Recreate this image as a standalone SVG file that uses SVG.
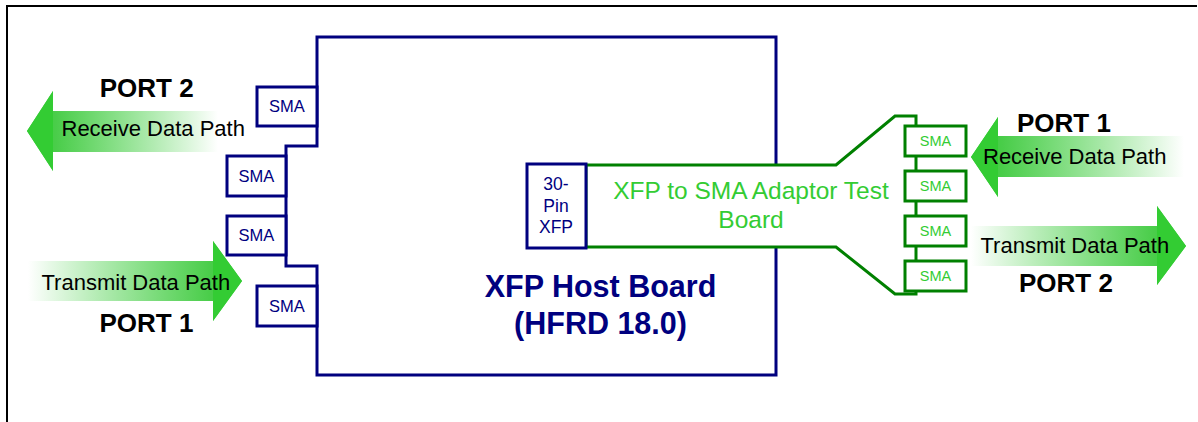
<svg xmlns="http://www.w3.org/2000/svg" width="1198" height="422" viewBox="0 0 1198 422">
<style>
.navy{fill:none;stroke:#00007f;stroke-width:3}
.navyb{fill:#fff;stroke:#00007f;stroke-width:3}
.grn{fill:#fff;stroke:#008000;stroke-width:3}
.t{font-family:"Liberation Sans",Arial,sans-serif;text-anchor:middle}
.s{font-family:"Liberation Sans",Arial,sans-serif}
.sma{font-size:16.5px;fill:#00007f}
.gsma{font-size:14.5px;fill:#33cc33}
.port{font-size:26px;font-weight:bold;fill:#000}
.path{font-size:22px;fill:#000}
</style>
<defs>
<linearGradient id="gL" x1="0" y1="0" x2="1" y2="0">
<stop offset="0" stop-color="#33cc33"/>
<stop offset="0.15" stop-color="#4acd4a"/>
<stop offset="1" stop-color="#33cc33" stop-opacity="0"/>
</linearGradient>
<linearGradient id="gR" x1="0" y1="0" x2="1" y2="0">
<stop offset="0" stop-color="#33cc33" stop-opacity="0"/>
<stop offset="0.85" stop-color="#4acd4a"/>
<stop offset="1" stop-color="#33cc33"/>
</linearGradient>
</defs>
<rect width="1198" height="422" fill="#fff"/>
<path d="M7,422 V6 H1197" fill="none" stroke="#000" stroke-width="2"/>

<g id="host-board">
<path class="navy" d="M317,37 H776 V375 H317 V266 H286 V146 H317 Z"/>
<text class="t" x="600.5" y="297" font-size="30.5" font-weight="bold" fill="#00007f">XFP Host Board</text>
<text class="t" x="600.5" y="333.5" font-size="30.5" font-weight="bold" fill="#00007f">(HFRD 18.0)</text>
</g>

<g id="sma-left-1"><rect class="navyb" x="257" y="87" width="60" height="39"/><text class="t sma" x="287" y="112.3">SMA</text></g>
<g id="sma-left-2"><rect class="navyb" x="227" y="156" width="59" height="40"/><text class="t sma" x="256.5" y="181.8">SMA</text></g>
<g id="sma-left-3"><rect class="navyb" x="227" y="216" width="59" height="39"/><text class="t sma" x="256.5" y="241.3">SMA</text></g>
<g id="sma-left-4"><rect class="navyb" x="257" y="286" width="60" height="40"/><text class="t sma" x="287" y="311.8">SMA</text></g>

<g id="adaptor-board">
<path class="grn" d="M586,165 H836 L895,116 H916 V294 H895 L836,247 H586 Z"/>
<text class="t" x="751" y="199" font-size="24.5" fill="#33cc33">XFP to SMA Adaptor Test</text>
<text class="t" x="751" y="227.5" font-size="24.5" fill="#33cc33">Board</text>
</g>

<g id="xfp-connector">
<rect class="navyb" x="527" y="164" width="59" height="84"/>
<text class="t" x="556" y="190" font-size="17.5" fill="#00007f">30-</text>
<text class="t" x="556" y="211.5" font-size="17.5" fill="#00007f">Pin</text>
<text class="t" x="556" y="232.5" font-size="17.5" fill="#00007f">XFP</text>
</g>

<g id="sma-right-1"><rect class="grn" x="905" y="126" width="61" height="30"/><text class="t gsma" x="935.5" y="146">SMA</text></g>
<g id="sma-right-2"><rect class="grn" x="905" y="171" width="61" height="30"/><text class="t gsma" x="935.5" y="191">SMA</text></g>
<g id="sma-right-3"><rect class="grn" x="905" y="216" width="61" height="30"/><text class="t gsma" x="935.5" y="236">SMA</text></g>
<g id="sma-right-4"><rect class="grn" x="905" y="261" width="61" height="30"/><text class="t gsma" x="935.5" y="281">SMA</text></g>

<g id="connectors">
<g id="left-receive">
<path d="M27,131 L53,91 V111 H218 V152 H53 V171 Z" fill="url(#gL)"/>
<path d="M27,131 L53,91 V171 Z" fill="#33cc33"/>
</g>
<g id="left-transmit">
<path d="M242,281 L213,241 V261 H28 V301 H213 V321 Z" fill="url(#gR)"/>
<path d="M242,281 L213,241 V321 Z" fill="#33cc33"/>
</g>
<g id="right-receive">
<path d="M971,157 L998,117 V136 H1184 V177 H998 V197 Z" fill="url(#gL)"/>
<path d="M971,157 L998,117 V197 Z" fill="#33cc33"/>
</g>
<g id="right-transmit">
<path d="M1186,246 L1157,206 V226 H971 V266 H1157 V285 Z" fill="url(#gR)"/>
<path d="M1186,246 L1157,206 V285 Z" fill="#33cc33"/>
</g>
</g>

<g id="labels">
<text class="t port" x="146.7" y="96.7">PORT 2</text>
<text class="s path" x="61.5" y="136">Receive Data Path</text>
<text class="s path" x="41.5" y="290">Transmit Data Path</text>
<text class="t port" x="146.5" y="331.7">PORT 1</text>
<text class="t port" x="1064" y="132.3">PORT 1</text>
<text class="s path" x="983" y="164">Receive Data Path</text>
<text class="s path" x="980.5" y="253.3">Transmit Data Path</text>
<text class="t port" x="1066" y="291.7">PORT 2</text>
</g>
</svg>
